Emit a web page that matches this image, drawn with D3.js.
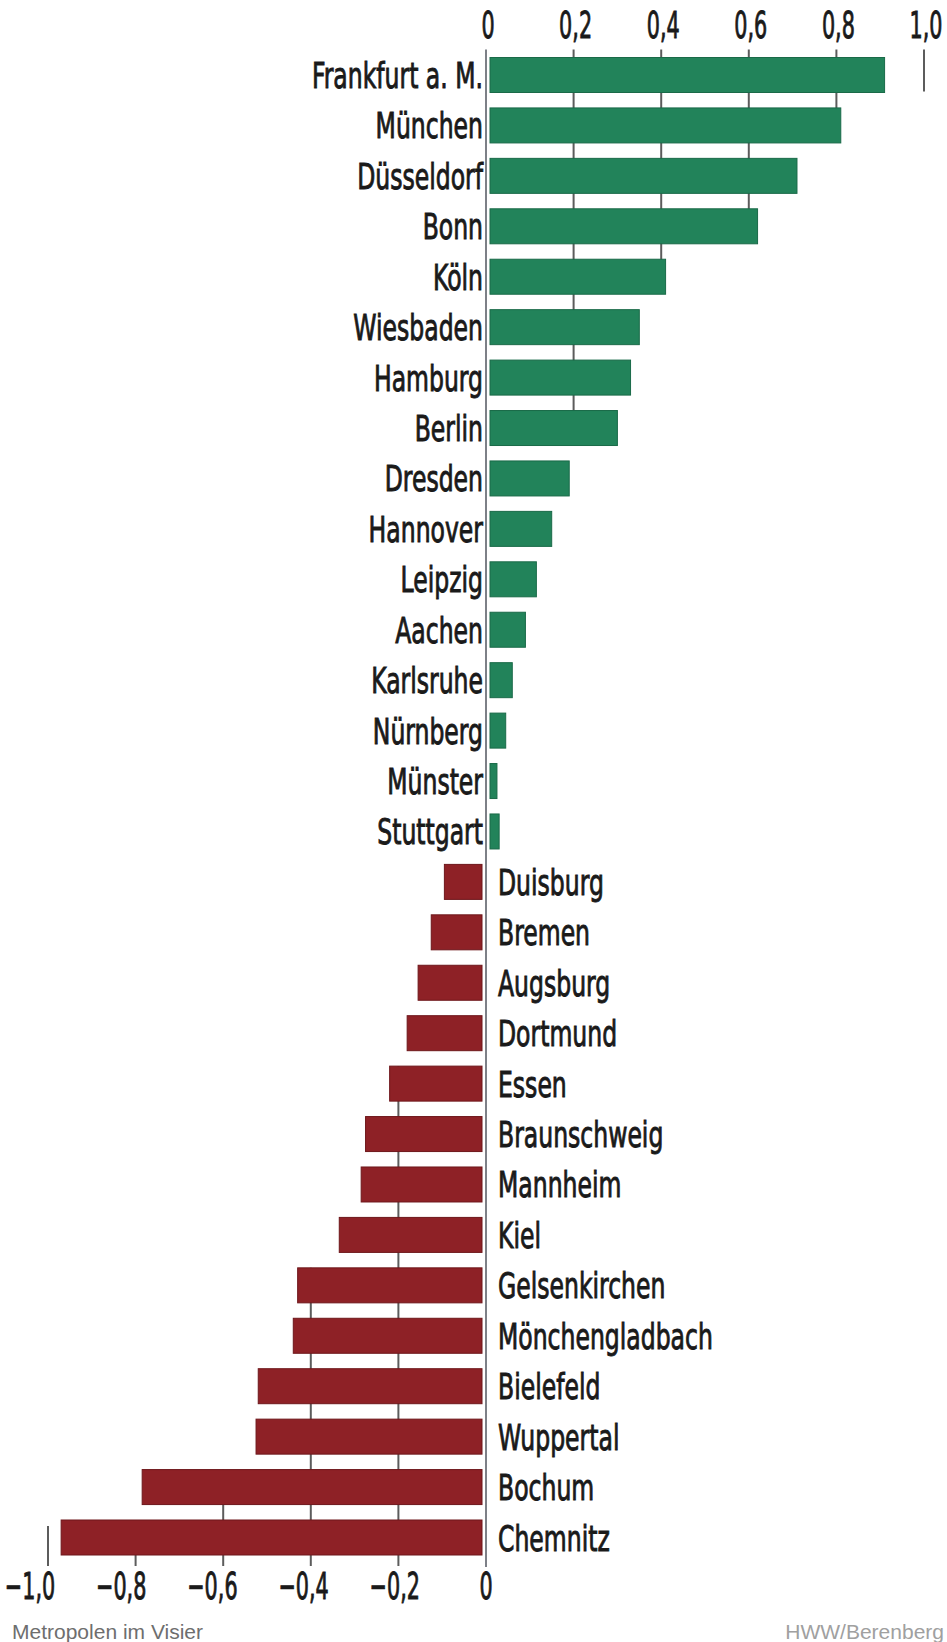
<!DOCTYPE html>
<html>
<head>
<meta charset="utf-8">
<script src="https://cdn.jsdelivr.net/npm/d3@7"></script>
<style>
  html, body { margin: 0; padding: 0; background: #ffffff; }
  svg { display: block; }
</style>
</head>
<body>
<svg id="chart" width="947" height="1642"></svg>
<script>
// ---- data ----
const cities = ["Frankfurt a. M.", "München", "Düsseldorf", "Bonn", "Köln", "Wiesbaden", "Hamburg", "Berlin",
  "Dresden", "Hannover", "Leipzig", "Aachen", "Karlsruhe", "Nürnberg", "Münster", "Stuttgart",
  "Duisburg", "Bremen", "Augsburg", "Dortmund", "Essen", "Braunschweig", "Mannheim", "Kiel",
  "Gelsenkirchen", "Mönchengladbach", "Bielefeld", "Wuppertal", "Bochum", "Chemnitz"];
const values = [0.91, 0.81, 0.71, 0.62, 0.41, 0.35, 0.33, 0.30,
  0.19, 0.15, 0.115, 0.09, 0.06, 0.045, 0.025, 0.03,
  -0.095, -0.125, -0.155, -0.18, -0.22, -0.275, -0.285, -0.335,
  -0.43, -0.44, -0.52, -0.525, -0.785, -0.97];
const topTicks = [0, 0.2, 0.4, 0.6, 0.8, 1.0];
const topTickLabels = ["0", "0,2", "0,4", "0,6", "0,8", "1,0"];
const bottomTicks = [-1.0, -0.8, -0.6, -0.4, -0.2, 0];
const bottomTickLabels = ["−1,0", "−0,8", "−0,6", "−0,4", "−0,2", "0"];
const sourceLeft = "Metropolen im Visier";
const sourceRight = "HWW/Berenberg";

// ---- layout ----
const svg = d3.select("#chart");
const FONT = "'Liberation Sans Narrow', 'DejaVu Sans Condensed', 'Liberation Sans', Arial, sans-serif";
const x = d3.scaleLinear().domain([-1, 1]).range([48, 924]);
const bottomLabelX = d3.scaleLinear().domain([-1, 0]).range([x(-1) - 18, x(0)]);
const y = d3.scalePoint().domain(cities).range([75, 1537.5]);
const barH = 35;
const x0 = x(0);
const data = cities.map((c, i) => ({ city: c, value: values[i] }));
const pos = data.filter(d => d.value >= 0);
const neg = data.filter(d => d.value < 0);

// measure helper to get horizontal compression for the condensed look
function fitScale(sample, size, target) {
  const t = svg.append("text").attr("font-family", FONT).attr("font-size", size).text(sample);
  const w = t.node().getComputedTextLength();
  t.remove();
  return target / w;
}
const labelSize = 36;
const kLabel = fitScale("Frankfurt a. M.", labelSize, 171);
const tickSize = 38;
const kTick = fitScale("0,2", tickSize, 33);
const ink = "#1a1a1a";

// ---- grid lines (behind bars) ----
const gridColor = "#5c5c5c";
const gGrid = svg.append("g");
topTicks.filter(v => v > 0).forEach(v => {
  const covered = pos.filter(d => d.value >= v);
  const last = covered.length ? covered[covered.length - 1] : pos[0];
  gGrid.append("line")
    .attr("x1", x(v)).attr("x2", x(v))
    .attr("y1", y(pos[0].city) - barH / 2 - 8)
    .attr("y2", y(last.city) + barH / 2 - 1)
    .attr("stroke", gridColor).attr("stroke-width", 2);
});
bottomTicks.filter(v => v < 0).forEach(v => {
  const covered = neg.filter(d => d.value <= v);
  const first = covered.length ? covered[0] : neg[neg.length - 1];
  gGrid.append("line")
    .attr("x1", x(v)).attr("x2", x(v))
    .attr("y1", y(first.city) - barH / 2 + (covered.length ? 0 : 6))
    .attr("y2", y(neg[neg.length - 1].city) + barH / 2 + 11)
    .attr("stroke", gridColor).attr("stroke-width", 2);
});

// ---- bars ----
svg.append("g").selectAll("rect").data(data).join("rect")
  .attr("x", d => d.value >= 0 ? x0 + 4 : x(d.value))
  .attr("width", d => Math.max(1, Math.abs(x(d.value) - x0) - 4))
  .attr("y", d => y(d.city) - barH / 2)
  .attr("height", barH)
  .attr("fill", d => d.value >= 0 ? "#22835a" : "#8e2126")
  .attr("stroke", d => d.value >= 0 ? "#1a6a48" : "#6e171b")
  .attr("stroke-width", 1);

// ---- zero axis ----
svg.append("line")
  .attr("x1", x0).attr("x2", x0)
  .attr("y1", y(cities[0]) - barH / 2 - 8)
  .attr("y2", y(cities[cities.length - 1]) + barH / 2 + 12)
  .attr("stroke", "#7d8087").attr("stroke-width", 2);

// ---- category labels ----
svg.append("g").selectAll("text").data(data).join("text")
  .attr("font-family", FONT).attr("font-size", labelSize).attr("fill", ink)
  .attr("stroke", ink).attr("stroke-width", 0.9)
  .attr("text-anchor", d => d.value >= 0 ? "end" : "start")
  .attr("transform", d => `translate(${d.value >= 0 ? x0 - 3 : x0 + 12},${y(d.city) + 13}) scale(${kLabel},1)`)
  .text(d => d.city);

// ---- tick labels ----
svg.append("g").selectAll("text").data(topTicks).join("text")
  .attr("font-family", FONT).attr("font-size", tickSize).attr("fill", ink)
  .attr("stroke", ink).attr("stroke-width", 0.9)
  .attr("text-anchor", "middle")
  .attr("transform", d => `translate(${x(d) + 2},38) scale(${kTick},1)`)
  .text((d, i) => topTickLabels[i]);

svg.append("g").selectAll("text").data(bottomTicks).join("text")
  .attr("font-family", FONT).attr("font-size", tickSize).attr("fill", ink)
  .attr("stroke", ink).attr("stroke-width", 0.9)
  .attr("text-anchor", "middle")
  .attr("transform", d => `translate(${bottomLabelX(d)},1599) scale(${kTick},1)`)
  .text((d, i) => bottomTickLabels[i]);

// ---- footer ----
svg.append("text")
  .attr("x", 12).attr("y", 1639)
  .attr("font-family", "'Liberation Sans', Arial, sans-serif").attr("font-size", 21)
  .attr("fill", "#6e6e6e").text(sourceLeft);
svg.append("text")
  .attr("x", 944).attr("y", 1639).attr("text-anchor", "end")
  .attr("font-family", "'Liberation Sans', Arial, sans-serif").attr("font-size", 21)
  .attr("fill", "#a0a0a0").text(sourceRight);
</script>
</body>
</html>
